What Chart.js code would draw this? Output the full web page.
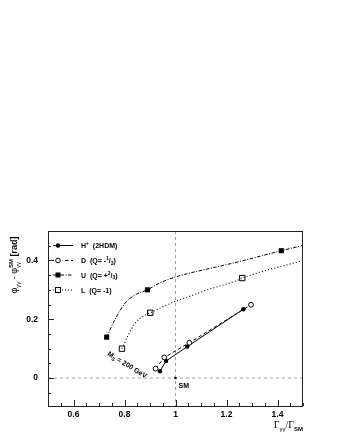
<!DOCTYPE html>
<html><head><meta charset="utf-8">
<script src="https://cdn.jsdelivr.net/npm/chart.js@4"></script>
<style>html,body{margin:0;padding:0;background:#fff}#wrap{width:345px;height:447px}</style>
</head><body><div id="wrap"><canvas id="c" width="345" height="447"></canvas></div>
<script>
// ---- data ----
const hX = [0.939, 0.963, 1.046, 1.266];
const hY = [0.023, 0.058, 0.107, 0.234];
const dX = [0.922, 0.956, 1.054, 1.296];
const dY = [0.032, 0.070, 0.120, 0.249];
const uMarkX = [0.730, 0.890, 1.415];
const uMarkY = [0.139, 0.300, 0.433];
const uCurveX = [0.730, 0.762, 0.801, 0.840, 0.890, 0.940, 0.997, 1.056, 1.121, 1.245, 1.415, 1.500];
const uCurveY = [0.139, 0.198, 0.253, 0.282, 0.300, 0.324, 0.343, 0.357, 0.370, 0.395, 0.433, 0.451];
const lMarkX = [0.790, 0.901, 1.262];
const lMarkY = [0.100, 0.222, 0.340];
const lCurveX = [0.790, 0.814, 0.840, 0.873, 0.901, 0.945, 0.997, 1.069, 1.121, 1.239, 1.262, 1.500];
const lCurveY = [0.100, 0.145, 0.185, 0.210, 0.222, 0.240, 0.260, 0.282, 0.299, 0.331, 0.340, 0.400];
const smX = [1.0], smY = [0.0];
const xTickLabels = [0.6, 0.8, 1, 1.2, 1.4];
const yTickLabels = [0, 0.2, 0.4];

const pts = (xs, ys) => xs.map((x, i) => ({x, y: ys[i]}));
const SANS = '"Liberation Sans", Arial, sans-serif';
const SERIF = '"Liberation Serif", "Times New Roman", serif';
const isLabel = (v, arr) => arr.some(a => Math.abs(a - v) < 1e-6);

const decor = {
  id: 'decor',
  beforeDatasetsDraw(chart) {
    const {ctx, chartArea: a, scales: {x, y}} = chart;
    ctx.save();
    ctx.strokeStyle = '#8a8a8a'; ctx.lineWidth = 0.8; ctx.setLineDash([3, 3]);
    const px = x.getPixelForValue(1), py = y.getPixelForValue(0);
    ctx.beginPath(); ctx.moveTo(px, a.top); ctx.lineTo(px, a.bottom); ctx.stroke();
    ctx.beginPath(); ctx.moveTo(a.left, py); ctx.lineTo(a.right, py); ctx.stroke();
    ctx.restore();
  },
  afterDraw(chart) {
    const {ctx, chartArea: a, scales: {x, y}} = chart;
    ctx.save();
    // frame
    ctx.strokeStyle = '#222'; ctx.lineWidth = 1; ctx.setLineDash([]);
    ctx.strokeRect(a.left + 0.5, a.top + 0.5, a.right - a.left - 1, a.bottom - a.top);
    // inward ticks
    ctx.beginPath();
    for (let i = 0; i <= 20; i++) {
      const v = 0.5 + i * 0.05; const p = Math.round(x.getPixelForValue(v)) + 0.5;
      const L = isLabel(v, xTickLabels) ? 6 : 3;
      ctx.moveTo(p, a.bottom); ctx.lineTo(p, a.bottom - L);
    }
    for (let i = -1; i <= 10; i++) {
      const v = i * 0.05; const p = Math.round(y.getPixelForValue(v)) + 0.5;
      const L = isLabel(v, yTickLabels) ? 6 : 3;
      ctx.moveTo(a.left, p); ctx.lineTo(a.left + L, p);
    }
    ctx.stroke();

    ctx.fillStyle = '#000';
    ctx.textBaseline = 'alphabetic';
    function rich(segs, x0, y0) {
      let cx = x0;
      for (const s of segs) {
        ctx.font = s.f; ctx.fillText(s.t, cx, y0 + (s.dy || 0));
        cx += ctx.measureText(s.t).width + (s.sp || 0);
      }
      return cx - x0;
    }
    function richWidth(segs) {
      let w = 0; for (const s of segs) { ctx.font = s.f; w += ctx.measureText(s.t).width + (s.sp || 0); } return w;
    }
    const B7 = 'bold 7px ' + SANS, B5 = 'bold 5px ' + SANS;

    // legend
    const lx0 = 53, lx1 = 73, mx = 58, tx = 81;
    const rows = [
      {y: 245.5, dash: [], mk: 'fc', segs: [{t: 'H', f: B7}, {t: '+', f: B5, dy: -3}, {t: '  (2HDM)', f: B7}]},
      {y: 260.5, dash: [3.5, 2.5], mk: 'oc', segs: [{t: 'D  (Q= -', f: B7}, {t: '1', f: B5, dy: -3}, {t: '/', f: B7}, {t: '3', f: B5, dy: 1.5}, {t: ')', f: B7}]},
      {y: 275, dash: [3.5, 1.5, 1, 1.5], mk: 'fs', segs: [{t: 'U  (Q= +', f: B7}, {t: '2', f: B5, dy: -3}, {t: '/', f: B7}, {t: '3', f: B5, dy: 1.5}, {t: ')', f: B7}]},
      {y: 290, dash: [1, 2], mk: 'os', segs: [{t: 'L  (Q= -1)', f: B7}]}
    ];
    for (const r of rows) {
      ctx.strokeStyle = '#000'; ctx.lineWidth = 1; ctx.setLineDash(r.dash);
      ctx.beginPath(); ctx.moveTo(lx0, r.y); ctx.lineTo(lx1, r.y); ctx.stroke();
      ctx.setLineDash([]);
      ctx.fillStyle = '#fff';
      if (r.mk === 'oc' || r.mk === 'os') { ctx.fillRect(mx - 4, r.y - 3, 8, 6); }
      ctx.fillStyle = '#000';
      ctx.beginPath();
      if (r.mk === 'fc') { ctx.arc(mx, r.y, 2.2, 0, 7); ctx.fill(); }
      if (r.mk === 'oc') { ctx.arc(mx, r.y, 2.3, 0, 7); ctx.stroke(); }
      if (r.mk === 'fs') { ctx.fillRect(mx - 2.5, r.y - 2.5, 5, 5); }
      if (r.mk === 'os') { ctx.strokeRect(mx - 2.5, r.y - 2.5, 5, 5); }
      rich(r.segs, tx, r.y + 2.5);
    }

    // SM label
    ctx.font = B7; ctx.fillText('SM', x.getPixelForValue(1) + 3, y.getPixelForValue(0) + 10);

    // M_s = 200 GeV rotated
    ctx.save();
    ctx.translate(107, 355);
    ctx.rotate(Math.atan2(24, 39));
    rich([{t: 'M', f: B7}, {t: 'S', f: B5, dy: 2}, {t: ' = 200 GeV', f: B7}], 0, 0);
    ctx.restore();

    // y axis title (rotated)
    const ySegs = [
      {t: 'φ', f: '9px ' + SANS},
      {t: 'γγ', f: '6px ' + SANS, dy: 2.5},
      {t: ' - φ', f: '9px ' + SANS},
      {t: 'γγ', f: '6px ' + SANS, dy: 2.5, sp: -6},
      {t: 'SM', f: 'bold 6px ' + SANS, dy: -4},
      {t: ' [rad]', f: 'bold 9px ' + SANS}
    ];
    ctx.save();
    ctx.translate(17, 265);
    ctx.rotate(-Math.PI / 2);
    const yw = richWidth(ySegs);
    rich(ySegs, -yw / 2, 0);
    ctx.restore();

    // x axis title
    const xSegs = [
      {t: 'Γ', f: '10px ' + SERIF},
      {t: 'γγ', f: '6px ' + SANS, dy: 2.5},
      {t: '/Γ', f: '10px ' + SERIF},
      {t: 'SM', f: 'bold 6px ' + SANS, dy: 2.5}
    ];
    const xw = richWidth(xSegs);
    rich(xSegs, a.right - xw, 428);
    ctx.restore();
  }
};

new Chart(document.getElementById('c'), {
  type: 'scatter',
  data: {
    datasets: [
      {data: pts(uCurveX, uCurveY), showLine: true, borderColor: '#000', borderWidth: 1, borderDash: [3.5, 1.5, 1, 1.5], pointRadius: 0, cubicInterpolationMode: 'monotone'},
      {data: pts(lCurveX, lCurveY), showLine: true, borderColor: '#000', borderWidth: 1.1, borderDash: [1, 2.2], pointRadius: 0, cubicInterpolationMode: 'monotone'},
      {data: pts(dX, dY), showLine: true, borderColor: '#000', borderWidth: 1, borderDash: [3.5, 2.5], pointRadius: 2.4, pointStyle: 'circle', pointBackgroundColor: '#fff', pointBorderColor: '#000', pointBorderWidth: 1},
      {data: pts(hX, hY), showLine: true, borderColor: '#000', borderWidth: 1, pointRadius: 2.2, pointStyle: 'circle', pointBackgroundColor: '#000', pointBorderColor: '#000', pointBorderWidth: 0},
      {data: pts(uMarkX, uMarkY), showLine: false, pointRadius: 3.6, pointStyle: 'rect', pointBackgroundColor: '#000', pointBorderColor: '#000', pointBorderWidth: 0},
      {data: pts(lMarkX, lMarkY), showLine: false, pointRadius: 3.8, pointStyle: 'rect', pointBackgroundColor: '#fff', pointBorderColor: '#000', pointBorderWidth: 1},
      {data: pts(smX, smY), showLine: false, pointRadius: 1.3, pointStyle: 'circle', pointBackgroundColor: '#000', pointBorderColor: '#000', pointBorderWidth: 0}
    ]
  },
  options: {
    responsive: false, animation: false,
    layout: {padding: {top: 231, right: 42, left: 0, bottom: 0}},
    plugins: {legend: {display: false}, tooltip: {enabled: false}},
    scales: {
      x: {
        type: 'linear', min: 0.5, max: 1.5,
        grid: {display: false, drawTicks: false}, border: {display: false},
        afterFit: s => { s.height = 41; },
        ticks: {stepSize: 0.05, autoSkip: false, maxRotation: 0, padding: 4, color: '#000',
          font: {family: SANS, size: 8.5, weight: 'bold'},
          callback: v => isLabel(v, xTickLabels) ? String(+v.toFixed(2)) : ''}
      },
      y: {
        type: 'linear', min: -0.095, max: 0.5,
        grid: {display: false, drawTicks: false}, border: {display: false},
        afterFit: s => { s.width = 48; },
        ticks: {stepSize: 0.05, autoSkip: false, padding: 10, color: '#000',
          font: {family: SANS, size: 8.5, weight: 'bold'},
          callback: v => isLabel(v, yTickLabels) ? String(+v.toFixed(2)) : ''}
      }
    }
  },
  plugins: [decor]
});
</script></body></html>
